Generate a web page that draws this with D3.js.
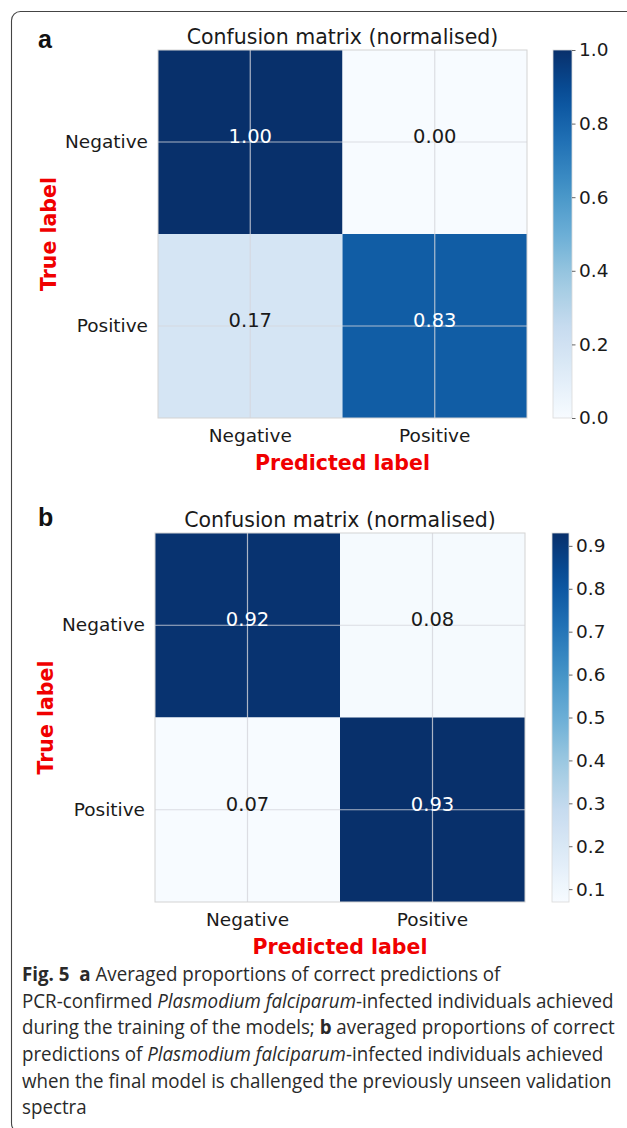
<!DOCTYPE html>
<html>
<head>
<meta charset="utf-8">
<script src="https://cdn.jsdelivr.net/npm/d3@7"></script>
<style>
  html, body { margin: 0; padding: 0; background: #fff; }
  svg { display: block; }
</style>
</head>
<body>
<svg id="fig" width="627" height="1128"></svg>
<script>
// ---------------- data ----------------
const categories = ["Negative", "Positive"];
const matrixA = [[1.00, 0.00], [0.17, 0.83]];
const matrixB = [[0.92, 0.08], [0.07, 0.93]];
const colorbarTicksA = [0.0, 0.2, 0.4, 0.6, 0.8, 1.0];
const colorbarTicksB = [0.1, 0.2, 0.3, 0.4, 0.5, 0.6, 0.7, 0.8, 0.9];
const panelTitle = "Confusion matrix (normalised)";
const xLabel = "Predicted label";
const yLabel = "True label";

// matplotlib "Blues" (ColorBrewer stops, linear segments)
const bluesStops = ["#f7fbff","#deebf7","#c6dbef","#9ecae1","#6baed6","#4292c6","#2171b5","#08519c","#08306b"];
const blues = d3.scaleLinear()
  .domain(d3.range(bluesStops.length).map(i => i / (bluesStops.length - 1)))
  .range(bluesStops)
  .interpolate(d3.interpolateRgb)
  .clamp(true);

const svg = d3.select("#fig");
const FONT = "'DejaVu Sans', sans-serif";

// outer frame (rounded box, partly cropped)
svg.append("rect")
  .attr("x", 11.5).attr("y", 11.5)
  .attr("width", 700).attr("height", 1121)
  .attr("rx", 9).attr("ry", 9)
  .attr("fill", "none").attr("stroke", "#444").attr("stroke-width", 1.1);

const defs = svg.append("defs");

function drawPanel(cfg) {
  const { matrix, ticks, letter, left, right, top, bottom, cbLeft, cbRight, id } = cfg;
  const flat = matrix.flat();
  const [vmin, vmax] = d3.extent(flat);
  const norm = d3.scaleLinear().domain([vmin, vmax]).range([0, 1]);
  const color = v => blues(norm(v));

  const x = d3.scaleBand().domain(categories).range([left, right]).padding(0);
  const y = d3.scaleBand().domain(categories).range([top, bottom]).padding(0);

  const g = svg.append("g");

  // cells
  const cells = [];
  matrix.forEach((row, i) => row.forEach((v, j) => cells.push({ r: categories[i], c: categories[j], v })));
  g.selectAll("rect.cell").data(cells).enter().append("rect")
    .attr("class", "cell")
    .attr("x", d => x(d.c)).attr("y", d => y(d.r))
    .attr("width", x.bandwidth()).attr("height", y.bandwidth())
    .attr("fill", d => color(d.v));

  // grid lines at tick centres
  categories.forEach(c => {
    const cx = x(c) + x.bandwidth() / 2;
    g.append("line").attr("x1", cx).attr("x2", cx).attr("y1", top).attr("y2", bottom)
      .attr("stroke", "#d4d6dc").attr("stroke-opacity", 0.8).attr("stroke-width", 1.2);
    const cy = y(c) + y.bandwidth() / 2;
    g.append("line").attr("y1", cy).attr("y2", cy).attr("x1", left).attr("x2", right)
      .attr("stroke", "#d4d6dc").attr("stroke-opacity", 0.8).attr("stroke-width", 1.2);
  });

  // border
  g.append("rect").attr("x", left).attr("y", top)
    .attr("width", right - left).attr("height", bottom - top)
    .attr("fill", "none").attr("stroke", "#d3d3d3").attr("stroke-width", 1);

  // cell text
  const thresh = (vmin + vmax) / 2;
  g.selectAll("text.val").data(cells).enter().append("text")
    .attr("class", "val")
    .attr("x", d => x(d.c) + x.bandwidth() / 2)
    .attr("y", d => y(d.r) + y.bandwidth() / 2 + 1)
    .attr("text-anchor", "middle")
    .attr("font-family", FONT).attr("font-size", 19.5)
    .attr("fill", d => d.v > thresh ? "#ffffff" : "#1a1a1a")
    .text(d => d3.format(".2f")(d.v));

  // axes
  const ax = g.append("g").attr("transform", `translate(0,${bottom})`)
    .call(d3.axisBottom(x).tickSize(0).tickPadding(11));
  ax.select(".domain").remove();
  ax.selectAll("text").attr("font-family", FONT).attr("font-size", 18.5).attr("fill", "#1a1a1a");

  const ay = g.append("g").attr("transform", `translate(${left},0)`)
    .call(d3.axisLeft(y).tickSize(0).tickPadding(10));
  ay.select(".domain").remove();
  ay.selectAll("text").attr("font-family", FONT).attr("font-size", 18.5).attr("fill", "#1a1a1a");

  // title
  g.append("text")
    .attr("x", (left + right) / 2).attr("y", top - 6)
    .attr("text-anchor", "middle")
    .attr("font-family", FONT).attr("font-size", 20.5).attr("fill", "#1a1a1a")
    .text(panelTitle);

  // axis labels
  g.append("text")
    .attr("x", (left + right) / 2).attr("y", bottom + 52)
    .attr("text-anchor", "middle")
    .attr("font-family", FONT).attr("font-weight", "bold").attr("font-size", 20.5)
    .attr("fill", "#f00000")
    .text(xLabel);
  g.append("text")
    .attr("transform", `translate(${left - 102},${(top + bottom) / 2}) rotate(-90)`)
    .attr("text-anchor", "middle")
    .attr("font-family", FONT).attr("font-weight", "bold").attr("font-size", 20.5)
    .attr("fill", "#f00000")
    .text(yLabel);

  // panel letter
  g.append("text")
    .attr("x", cfg.letterX).attr("y", cfg.letterY)
    .attr("font-family", "'Liberation Sans', Arial, sans-serif")
    .attr("font-weight", "bold").attr("font-size", 25).attr("fill", "#111")
    .text(letter);

  // colorbar
  const grad = defs.append("linearGradient").attr("id", "grad" + id)
    .attr("x1", 0).attr("y1", 1).attr("x2", 0).attr("y2", 0);
  d3.range(0, 1.0001, 0.05).forEach(t => {
    grad.append("stop").attr("offset", t).attr("stop-color", blues(t));
  });
  const cb = d3.scaleLinear().domain([vmin, vmax]).range([bottom, top]);
  g.append("rect").attr("x", cbLeft).attr("y", top)
    .attr("width", cbRight - cbLeft).attr("height", bottom - top)
    .attr("fill", `url(#grad${id})`)
    .attr("stroke", "#dadada").attr("stroke-width", 0.8);
  const ac = g.append("g").attr("transform", `translate(${cbRight},0)`)
    .call(d3.axisRight(cb).tickValues(ticks).tickSize(3.5).tickPadding(3.5).tickFormat(d3.format(".1f")));
  ac.select(".domain").remove();
  ac.selectAll("line").attr("stroke", "#555").attr("stroke-width", 0.9);
  ac.selectAll("text").attr("font-family", FONT).attr("font-size", 18.5).attr("fill", "#1a1a1a");
}

drawPanel({ id: "A", matrix: matrixA, ticks: colorbarTicksA, letter: "a",
  left: 158, right: 527, top: 50, bottom: 418, cbLeft: 553, cbRight: 572, letterX: 38, letterY: 48 });
drawPanel({ id: "B", matrix: matrixB, ticks: colorbarTicksB, letter: "b",
  left: 155, right: 525, top: 533, bottom: 902, cbLeft: 552, cbRight: 569, letterX: 38, letterY: 526 });

// ---------------- caption ----------------
const captionLines = [
  [["Fig. 5", "b", ""], ["  ", "", ""], ["a", "b", ""], [" Averaged proportions of correct predictions of", "", ""]],
  [["PCR-confirmed ", "", ""], ["Plasmodium falciparum", "", "i"], ["-infected individuals achieved", "", ""]],
  [["during the training of the models; ", "", ""], ["b", "b", ""], [" averaged proportions of correct", "", ""]],
  [["predictions of ", "", ""], ["Plasmodium falciparum", "", "i"], ["-infected individuals achieved", "", ""]],
  [["when the final model is challenged the previously unseen validation", "", ""]],
  [["spectra", "", ""]]
];
const cap = svg.append("g");
const capTexts = captionLines.map((line, i) => {
  const t = cap.append("text")
    .attr("x", 0).attr("y", 981 + i * 26.7)
    .attr("font-family", "'Open Sans', 'Noto Sans', sans-serif")
    .attr("font-size", 19.5).attr("fill", "#2a2a2a")
    .attr("xml:space", "preserve")
    .style("white-space", "pre");
  line.forEach(([s, b, it]) => {
    t.append("tspan")
      .attr("font-weight", b ? "bold" : null)
      .attr("font-style", it ? "italic" : null)
      .text(s);
  });
  return t;
});
const w2 = capTexts[1].node().getComputedTextLength();
const sx = 592 / w2;
cap.attr("transform", `translate(22,0) scale(${sx},1)`);
</script>
</body>
</html>
